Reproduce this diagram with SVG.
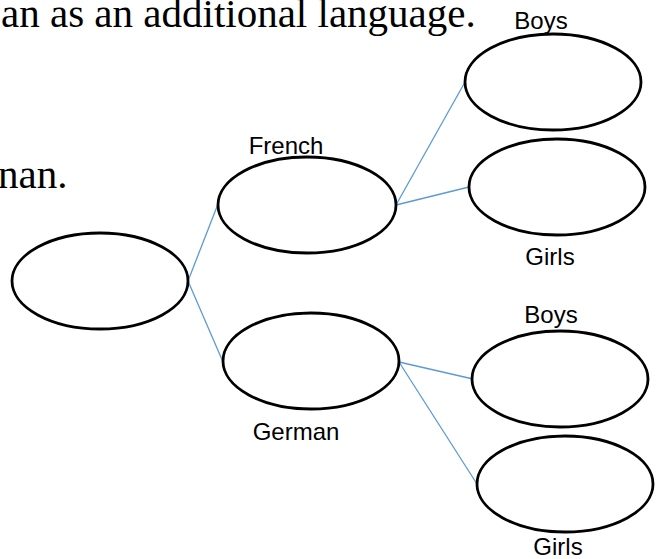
<svg xmlns="http://www.w3.org/2000/svg" width="659" height="559" viewBox="0 0 659 559">
<style>
.n{fill:#fff;stroke:#000;stroke-width:2.8}
.c{stroke:#5B9BD5;stroke-width:1.3;fill:none}
.t{font-family:"Liberation Serif","Times New Roman",serif;font-size:41px;fill:#000}
.l{font-family:"Liberation Sans",Arial,sans-serif;font-size:24px;fill:#000;text-anchor:middle}
</style>
<rect width="659" height="559" fill="#fff"/>
<text class="t" x="1" y="27">an as an additional language.</text>
<text class="t" x="-2" y="188">nan.</text>
<g id="connectors">
<line class="c" x1="188" y1="281" x2="218" y2="204"/>
<line class="c" x1="188" y1="281" x2="223" y2="362"/>
<line class="c" x1="396" y1="205" x2="465" y2="82"/>
<line class="c" x1="396" y1="205" x2="469" y2="187"/>
<line class="c" x1="399" y1="362" x2="473" y2="379"/>
<line class="c" x1="399" y1="362" x2="477" y2="484"/>
</g>
<g id="root"><ellipse class="n" cx="100" cy="281" rx="88" ry="48"/></g>
<g id="french"><ellipse class="n" cx="307" cy="205" rx="89" ry="48"/><text class="l" x="286" y="154">French</text></g>
<g id="german"><ellipse class="n" cx="311" cy="361" rx="88" ry="48"/><text class="l" x="296" y="440">German</text></g>
<g id="boys1"><ellipse class="n" cx="553" cy="82" rx="88" ry="48"/><text class="l" x="541" y="29">Boys</text></g>
<g id="girls1"><ellipse class="n" cx="557" cy="187" rx="88" ry="48"/><text class="l" x="550" y="265">Girls</text></g>
<g id="boys2"><ellipse class="n" cx="560" cy="379" rx="88" ry="48"/><text class="l" x="551" y="323">Boys</text></g>
<g id="girls2"><ellipse class="n" cx="565" cy="484" rx="88" ry="48"/><text class="l" x="558" y="555">Girls</text></g>
</svg>
